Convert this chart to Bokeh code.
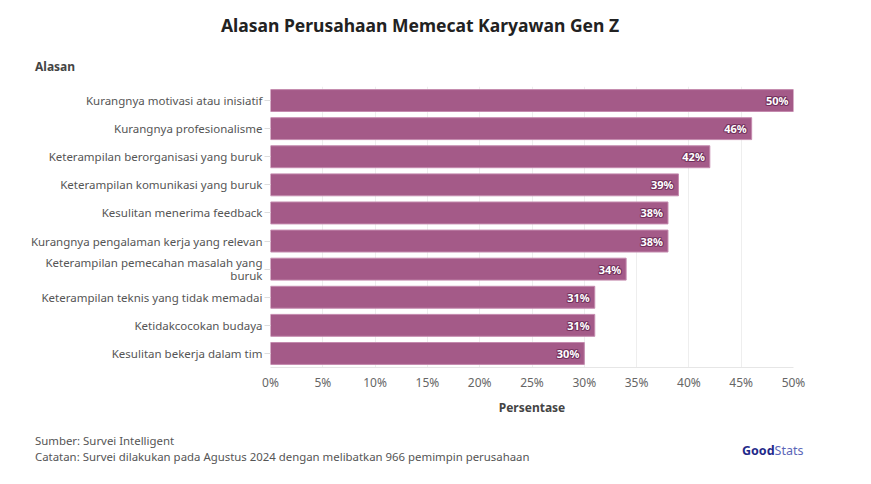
from bokeh.plotting import figure
from bokeh.layouts import column
from bokeh.models import ColumnDataSource, FactorRange, NumeralTickFormatter, SingleIntervalTicker, Range1d, Div
from bokeh.core.properties import value
from bokeh.embed import file_html
from bokeh.resources import INLINE

reasons = [
    "Kurangnya motivasi atau inisiatif",
    "Kurangnya profesionalisme",
    "Keterampilan berorganisasi yang buruk",
    "Keterampilan komunikasi yang buruk",
    "Kesulitan menerima feedback",
    "Kurangnya pengalaman kerja yang relevan",
    "Keterampilan pemecahan masalah yang\nburuk",
    "Keterampilan teknis yang tidak memadai",
    "Ketidakcocokan budaya",
    "Kesulitan bekerja dalam tim",
]
percent = [50, 46, 42, 39, 38, 38, 34, 31, 31, 30]
labels = [f"{v}%" for v in percent]

title_text = "Alasan Perusahaan Memecat Karyawan Gen Z"
y_title = "Alasan"
x_title = "Persentase"
source_text = "Sumber: Survei Intelligent"
note_text = "Catatan: Survei dilakukan pada Agustus 2024 dengan melibatkan 966 pemimpin perusahaan"

FONT = "Noto Sans"
W = 855
HEAD_H, MAIN_H, FOOT_H = 78, 342, 48
FL, FR, FT, FB = 270, 793, 86, 367  # frame edges in page px


def span(x, cy, text, size, bold=False, color="#555555", align="left"):
    top = cy - size * 0.6
    weight = "700" if bold else "400"
    if align == "center":
        pos = f"left:{x - 300}px;width:600px;text-align:center;"
    else:
        pos = f"left:{x}px;"
    return (f'<span style="position:absolute;{pos}top:{top:.1f}px;font-family:\'{FONT}\';'
            f'font-size:{size}px;line-height:1.2;font-weight:{weight};color:{color};'
            f'white-space:nowrap;">{text}</span>')


def box(h, inner):
    return (f'<div style="position:relative;width:{W}px;height:{h}px;overflow:hidden;'
            f'margin:0;padding:0;">{inner}</div>')


head = Div(width=W, height=HEAD_H, margin=0, text=box(HEAD_H,
           span(420, 25.5, title_text, 17.5, bold=True, color="#222222", align="center")
           + span(35, 67, y_title, 12, bold=True, color="#444444")))

src = ColumnDataSource(dict(reason=reasons, pct=percent, lab=labels))

top0 = HEAD_H
p = figure(width=W, height=MAIN_H, output_backend="svg", toolbar_location=None,
           y_range=FactorRange(*reversed(reasons)), x_range=Range1d(0, 50),
           min_border_left=FL, min_border_right=W - FR, min_border_top=FT - top0,
           min_border_bottom=top0 + MAIN_H - FB, margin=0)
p.outline_line_color = None
p.background_fill_color = "white"

p.hbar(y="reason", right="pct", left=0, height=0.78, source=src,
       fill_color="#a45a88", line_color="#c48aae", line_width=1)

for dx, dy in [(-1, 0), (1, 0), (0, -1), (0, 1), (-1, -1), (1, 1), (-1, 1), (1, -1)]:
    p.text(x="pct", y="reason", text="lab", source=src, x_offset=-5 + dx, y_offset=dy,
           text_align="right", text_baseline="middle", text_color="#6a2a55", text_alpha=0.6,
           text_font=value(FONT), text_font_style="bold", text_font_size="11px")
p.text(x="pct", y="reason", text="lab", source=src, x_offset=-5,
       text_align="right", text_baseline="middle", text_color="white",
       text_font=value(FONT), text_font_style="bold", text_font_size="11px")

p.xaxis.ticker = SingleIntervalTicker(interval=5)
p.xaxis.formatter = NumeralTickFormatter(format="0")
p.xaxis.major_label_overrides = {i: f"{i}%" for i in range(0, 55, 5)}
p.xaxis.axis_label = x_title
p.xaxis.axis_label_text_font = FONT
p.xaxis.axis_label_text_font_style = "bold"
p.xaxis.axis_label_text_font_size = "12px"
p.xaxis.axis_label_text_color = "#444444"
p.xaxis.axis_label_standoff = 5
p.xaxis.major_label_text_font = FONT
p.xaxis.major_label_text_font_size = "12px"
p.xaxis.major_label_text_color = "#666666"
p.xaxis.axis_line_color = "#e6e6e6"
p.xaxis.major_tick_line_color = None
p.xaxis.minor_tick_line_color = None
p.xaxis.major_label_standoff = 0

p.yaxis.major_label_text_font = FONT
p.yaxis.major_label_text_font_size = "11.5px"
p.yaxis.major_label_text_color = "#555555"
p.yaxis.major_label_text_line_height = 0.85
p.yaxis.axis_line_color = None
p.yaxis.major_tick_line_color = "#dddddd"
p.yaxis.major_tick_out = 6
p.yaxis.major_tick_in = 0
p.yaxis.major_label_standoff = 2

p.xgrid.grid_line_color = "#eeeeee"
p.ygrid.grid_line_color = None

ft = HEAD_H + MAIN_H
foot = Div(width=W, height=FOOT_H, margin=0, text=box(FOOT_H,
           span(35, 441 - ft, source_text, 11.4)
           + span(35, 457 - ft, note_text, 11.4)
           + span(742, 450 - ft, "<b style='color:#1f2a8a'>Good</b><span style='color:#5b66b8'>Stats</span>", 12.5)))

layout = column(head, p, foot, spacing=0)
open("out.html", "w").write(file_html(layout, INLINE))
